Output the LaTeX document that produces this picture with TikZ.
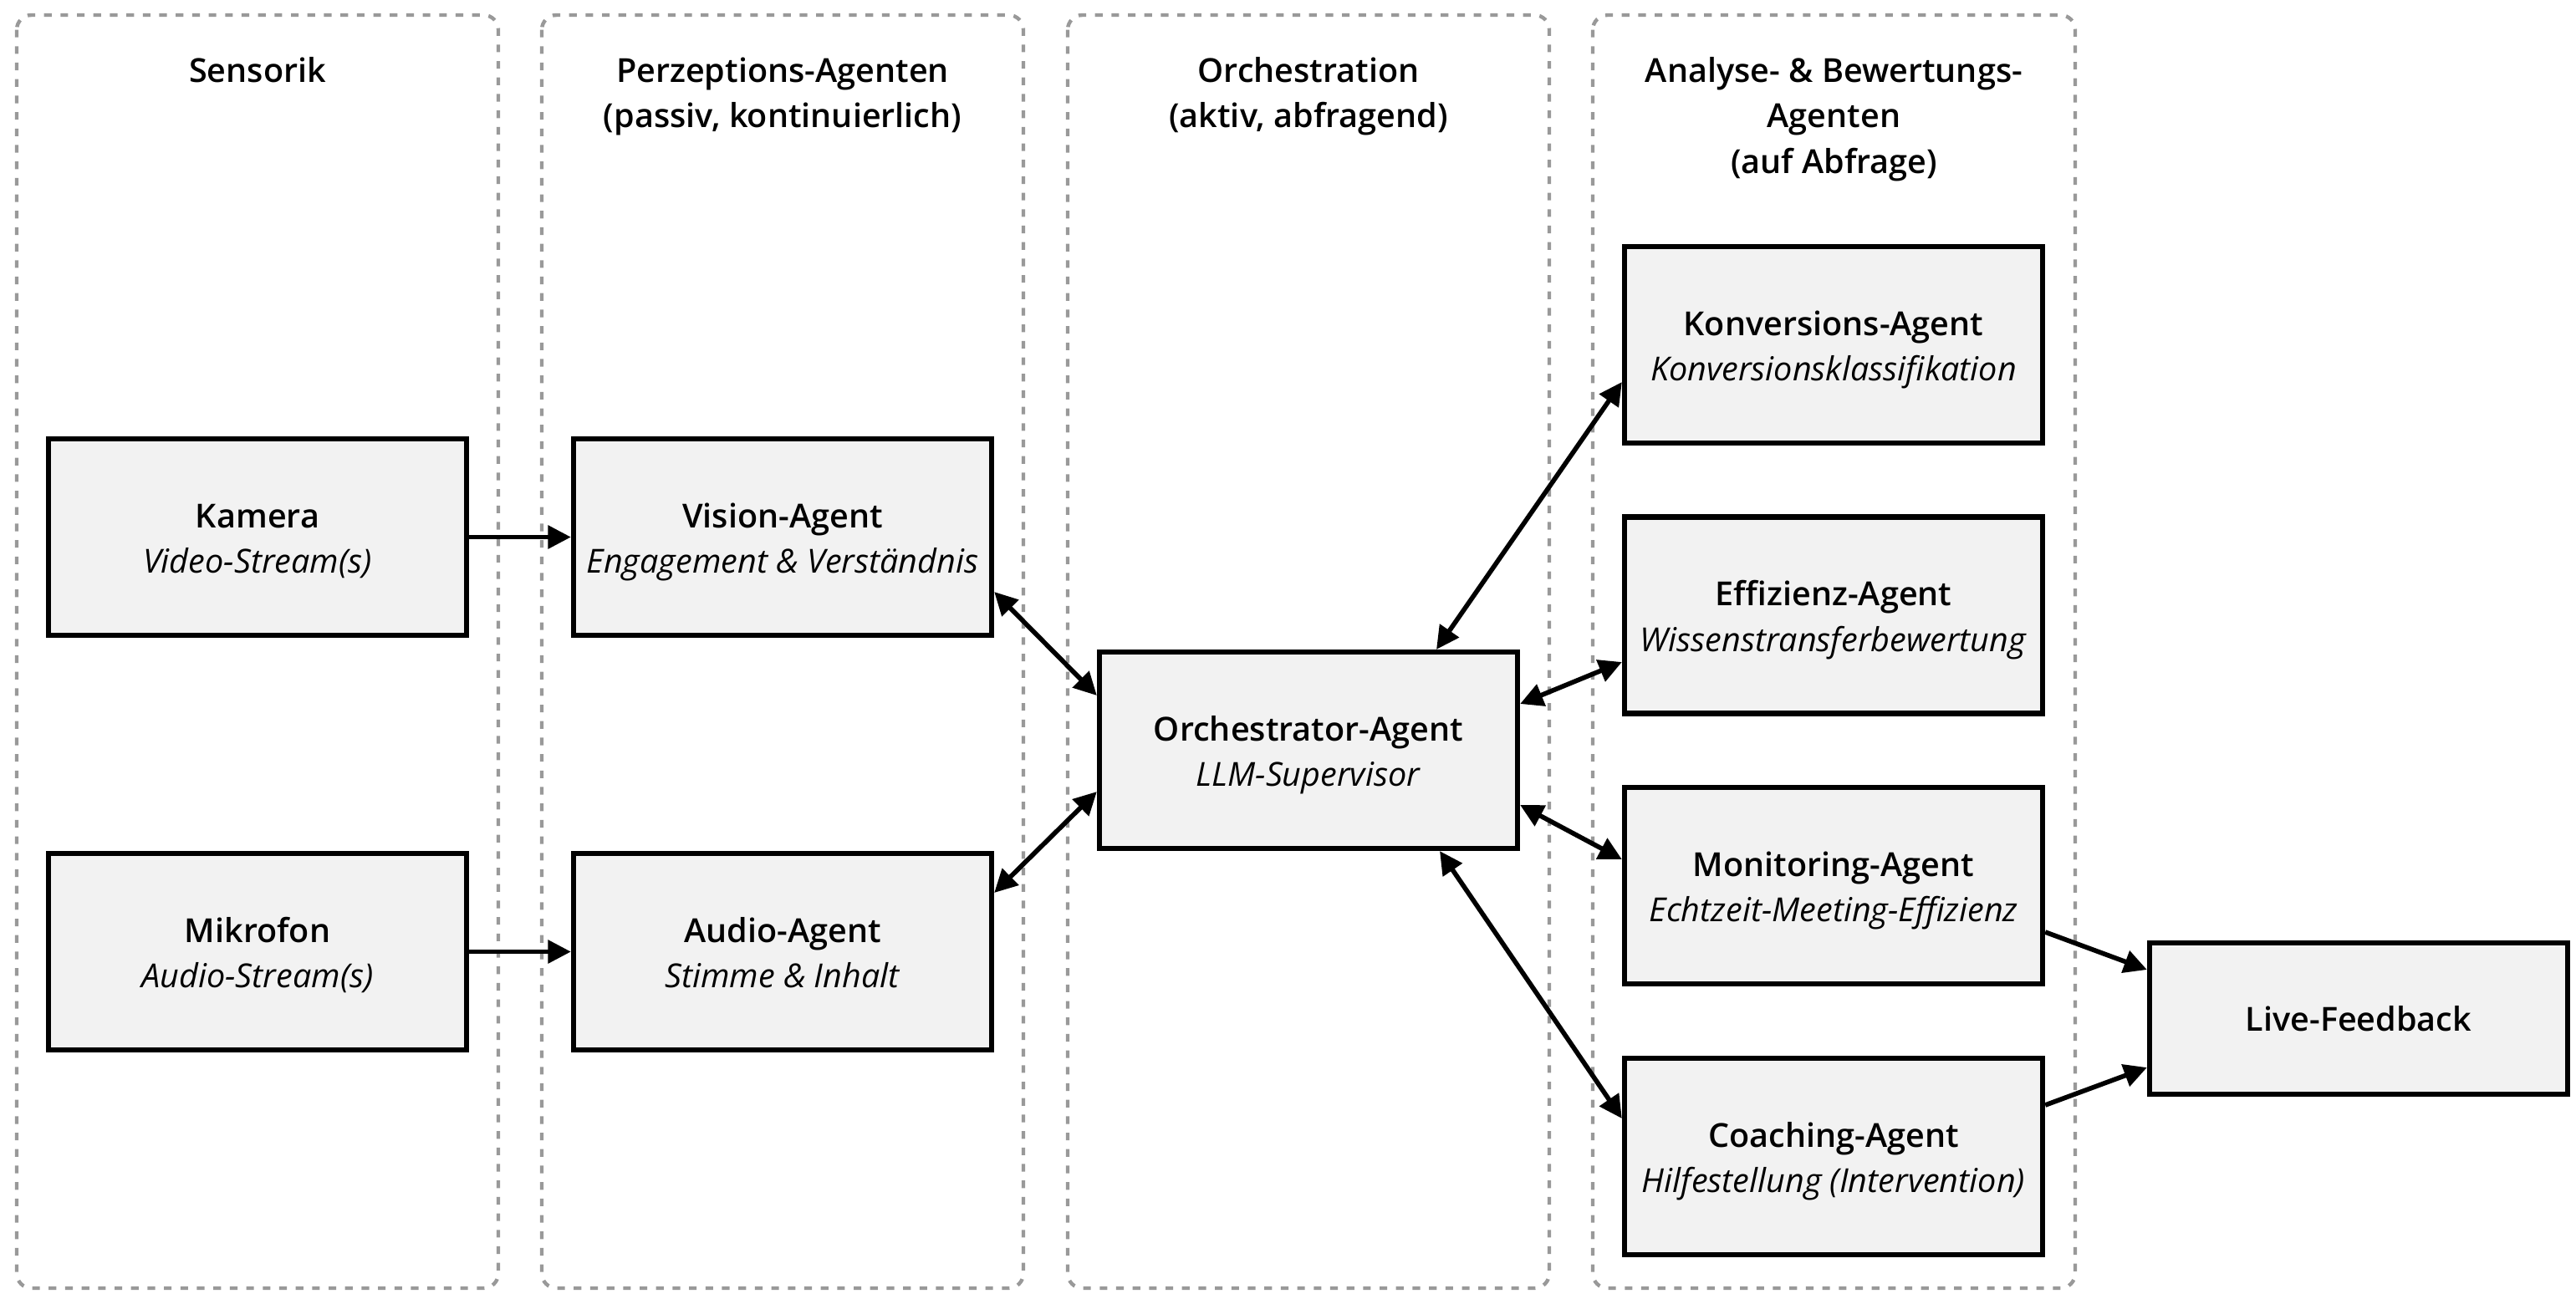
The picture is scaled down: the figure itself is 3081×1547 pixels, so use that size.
\documentclass[tikz,border=0pt]{standalone}
\usepackage{fontspec}
\IfFontExistsTF{Open Sans SemiBold}{%
  \setmainfont{Open Sans}[BoldFont={Open Sans SemiBold}]}{%
  \IfFontExistsTF{Open Sans Semibold}{%
    \setmainfont{Open Sans}[BoldFont={Open Sans Semibold}]}{%
    \setmainfont{Open Sans}}}
\usetikzlibrary{arrows.meta,calc}
\definecolor{boxfill}{HTML}{F2F2F2}
\definecolor{dashgray}{HTML}{999999}
\newcommand\bxt[2]{\rule{0pt}{11.75pt}\textbf{#1}\\\textit{#2}\rule[-2.7pt]{0pt}{2.7pt}}
\newcommand\topstrut{\rule{0pt}{11.75pt}}
\tikzset{
  lane/.style={draw=dashgray, line width=1.25pt, dash pattern=on 2.6pt off 3pt, rounded corners=5pt},
  box/.style={draw=black, fill=boxfill, line width=1.85pt, minimum width=4.995cm, minimum height=2.345cm,
    align=center, inner sep=0pt, font=\fontsize{11.25}{15.4}\selectfont},
  hdr/.style={anchor=north, align=center, inner sep=0pt, font=\fontsize{11.25}{15.4}\selectfont\bfseries},
  conn/.style={line width=1.6pt, -{Triangle[length=7.8pt,width=7.7pt]}},
  biconn/.style={line width=1.6pt, {Triangle[length=7.8pt,width=7.7pt]}-{Triangle[length=7.8pt,width=7.7pt]}},
}
\begin{document}
\begin{tikzpicture}[x=0.01cm, y=-0.01cm]
\useasboundingbox (0,0) rectangle (3081,1547);
% lanes
\draw[lane] (20,18) rectangle (596,1541);
\draw[lane] (648,18) rectangle (1224,1541);
\draw[lane] (1277,18) rectangle (1853,1541);
\draw[lane] (1905,18) rectangle (2482,1541);
% headers
\node[hdr] (h1) at (308,56.7) {\topstrut Sensorik};
\node[hdr] (h2) at (936,56.7) {\topstrut Perzeptions-Agenten\\(passiv, kontinuierlich)};
\node[hdr] (h3) at (1565,56.7) {\topstrut Orchestration\\(aktiv, abfragend)};
\node[hdr] (h4) at (2193.5,56.7) {\topstrut Analyse- \& Bewertungs-\\Agenten\\(auf Abfrage)};
% boxes
\node[box] (kam) at (308,642.5) {\bxt{Kamera}{Video-Stream(s)}};
\node[box] (mik) at (308,1138.5) {\bxt{Mikrofon}{Audio-Stream(s)}};
\node[box] (vis) at (936,642.5) {\bxt{Vision-Agent}{Engagement \& Verständnis}};
\node[box] (aud) at (936,1138.5) {\bxt{Audio-Agent}{Stimme \& Inhalt}};
\node[box] (orch) at (1565,897.5) {\bxt{Orchestrator-Agent}{LLM-Supervisor}};
\node[box] (konv) at (2193,412.5) {\bxt{Konversions-Agent}{Konversionsklassifikation}};
\node[box] (eff) at (2193,736) {\bxt{Effizienz-Agent}{Wissenstransferbewertung}};
\node[box] (mon) at (2193,1059.5) {\bxt{Monitoring-Agent}{Echtzeit-Meeting-Effizienz}};
\node[box] (coach) at (2193,1383.5) {\bxt{Coaching-Agent}{Hilfestellung (Intervention)}};
\node[box, minimum height=1.805cm] (live) at (2821,1218.5) {\textbf{Live-Feedback}};
% connectors
\draw[conn] (kam.east) -- (vis.west);
\draw[conn] (mik.east) -- (aud.west);
\draw[biconn] ($(vis.east)+(0,65.5)$) -- ($(orch.west)+(0,-65.5)$);
\draw[biconn] ($(aud.east)+(0,-70.5)$) -- ($(orch.west)+(0,49.5)$);
\draw[biconn] ($(orch.north)+(153,0)$) -- ($(konv.west)+(0,44.5)$);
\draw[biconn] ($(orch.east)+(0,-55.5)$) -- ($(eff.west)+(0,56)$);
\draw[biconn] ($(orch.east)+(0,65.5)$) -- ($(mon.west)+(0,-31.5)$);
\draw[biconn] ($(orch.south)+(157,0)$) -- ($(coach.west)+(0,-45.5)$);
\draw[conn] ($(mon.east)+(0,55.5)$) -- ($(live.west)+(0,-58.5)$);
\draw[conn] ($(coach.east)+(0,-61.5)$) -- ($(live.west)+(0,58.5)$);
\end{tikzpicture}
\end{document}
